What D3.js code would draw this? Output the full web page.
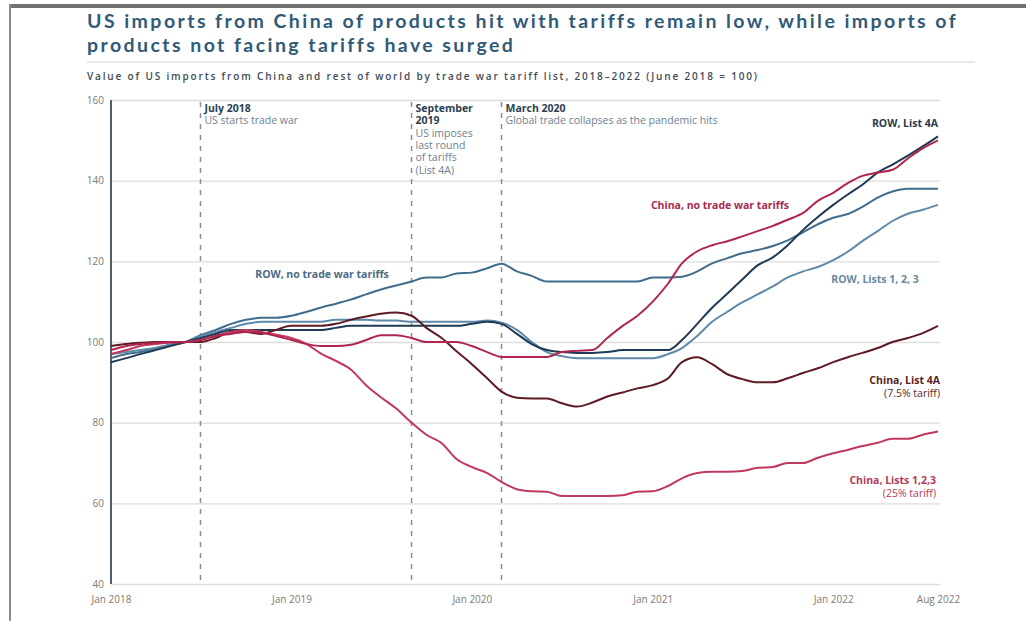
<!DOCTYPE html>
<html><head><meta charset="utf-8">
<script src="https://cdn.jsdelivr.net/npm/d3@7"></script>
<style>
html,body{margin:0;padding:0;background:#fff;}
svg{display:block;}
text{font-family:"Open Sans","Lato",sans-serif;}
</style></head>
<body>
<svg id="chart" width="1026" height="621"></svg>
<script>
// ---------- DATA ----------
const startMonth = new Date(2018, 0, 1);
const endMonth = new Date(2022, 7, 1);
const months = d3.timeMonth.range(startMonth, d3.timeMonth.offset(endMonth, 1)); // Jan 2018 .. Aug 2022

const rowNoTariff = [
  96, 97, 97.5, 98.5, 99.3, 100,
  101.7, 103, 104.5, 105.5, 106, 106,
  106.5, 107.5, 108.5, 109.5, 110.5, 111.8,
  113, 114, 115, 116, 116, 117,
  117.2, 118.3, 119.4, 117.5, 116.4, 115,
  115, 115, 115, 115, 115, 115,
  116, 116, 116.2, 117.5, 119.5, 120.8,
  122, 122.8, 123.8, 125.2, 127.2, 129.2,
  130.8, 131.8, 133.5, 135.8, 137.3, 138,
  138, 138];
const rowList4A = [
  95, 96, 97, 98, 99, 100,
  101, 102, 103, 103, 103, 103,
  103, 103, 103, 103.5, 104, 104,
  104, 104, 104, 104, 104, 104,
  104.5, 105, 104.5, 102, 99.5, 98,
  97.5, 97.3, 97.3, 97.5, 98, 98,
  98, 98, 100.5, 104.5, 108.5, 112,
  115.5, 119, 121, 124, 127.8, 131,
  134, 136.7, 139, 142, 144, 146.2,
  148.5, 151];
const rowLists123 = [
  97, 97.5, 98, 98.5, 99.3, 100,
  101.5, 102.5, 103.5, 104.5, 105, 105,
  105, 105, 105, 105.5, 105.5, 105.5,
  105.3, 105.3, 105, 105, 105, 105,
  105, 105.3, 104.8, 103, 100, 97.5,
  96.5, 96, 96, 96, 96, 96,
  96, 97, 98.5, 101.5, 105, 107.5,
  109.8, 111.8, 113.8, 116, 117.5, 118.6,
  120.3, 122.5, 125, 127.5, 130, 131.8,
  132.8, 134];
const chinaNoTariff = [
  98, 99, 99.5, 99.8, 100, 100,
  100.5, 101.5, 102, 102.5, 102.3, 101.5,
  100.5, 99.5, 99, 99, 99.3, 100.5,
  101.7, 101.7, 101, 100, 100, 100,
  99, 97.5, 96.3, 96.3, 96.3, 96.3,
  97.5, 97.8, 98, 101, 104, 106.5,
  110, 114.5, 119.5, 122.5, 124, 125,
  126.2, 127.5, 128.8, 130.3, 132, 135,
  137, 139.5, 141.2, 142, 142.7, 145.5,
  148, 150];
const chinaList4A = [
  99, 99.5, 99.8, 100, 100, 100,
  100, 101, 102.5, 102.5, 102, 103,
  104, 104, 104, 104.5, 105.5, 106.3,
  107, 107.3, 106.5, 103.5, 101, 97.7,
  94.5, 91, 87.7, 86.2, 86, 86,
  84.8, 84, 85, 86.5, 87.5, 88.5,
  89.3, 91, 95, 96.2, 94.5, 92,
  90.8, 90, 90, 91, 92.3, 93.5,
  95, 96.3, 97.3, 98.5, 100, 101,
  102.2, 104];
const chinaLists123 = [
  97, 98, 99, 99.5, 99.8, 100,
  100.5, 101.5, 102.5, 103, 102.5, 101.8,
  101, 99.5, 97.2, 95.3, 93.2, 89.3,
  86.3, 83.5, 80, 77, 74.9, 71,
  69, 67.5, 65.3, 63.5, 63, 62.9,
  61.8, 61.8, 61.8, 61.8, 62, 62.9,
  63, 64.3, 66.2, 67.5, 67.8, 67.8,
  68, 68.8, 69, 70, 70, 71.3,
  72.4, 73.3, 74.2, 75, 76, 76,
  77, 77.8];

const yTicks = [40, 60, 80, 100, 120, 140, 160];
const xTickDates = [new Date(2018,0,1), new Date(2019,0,1), new Date(2020,0,1), new Date(2021,0,1), new Date(2022,0,1), new Date(2022,7,1)];
const xTickLabels = ["Jan 2018", "Jan 2019", "Jan 2020", "Jan 2021", "Jan 2022", "Aug 2022"];

const eventDates = [new Date(2018,6,1), new Date(2019,8,1), new Date(2020,2,1)];
const eventTitles = [["July 2018"], ["September", "2019"], ["March 2020"]];
const eventTexts = [["US starts trade war"], ["US imposes", "last round", "of tariffs", "(List 4A)"], ["Global trade collapses as the pandemic hits"]];

const titleLines = ["US imports from China of products hit with tariffs remain low, while imports of",
                    "products not facing tariffs have surged"];
const subtitle = "Value of US imports from China and rest of world by trade war tariff list, 2018\u20132022 (June 2018 = 100)";

// ---------- SETUP ----------
const svg = d3.select("#chart");
svg.append("rect").attr("width",1026).attr("height",621).attr("fill","#fff");
// frame
svg.append("rect").attr("x",9).attr("y",4).attr("width",1017).attr("height",4).attr("fill","#727272");
svg.append("rect").attr("x",9).attr("y",4).attr("width",2).attr("height",617).attr("fill","#8c8c8c");

const x = d3.scaleTime().domain([startMonth, endMonth]).range([111, 938]);
const y = d3.scaleLinear().domain([40, 160]).range([584, 100]);

// stretch text to a target width by letter-spacing
function fitSpacing(sel, target, nchars){
  const w = sel.node().getComputedTextLength();
  const ls = (target - w) / Math.max(1, nchars - 1);
  sel.attr("letter-spacing", ls);
  return ls;
}

// Title
const t1 = svg.append("text").attr("x",87).attr("y",27.5).attr("font-size",19.5).attr("font-weight",700)
  .style("font-family","Lato, sans-serif").attr("fill","#2f5b78").text(titleLines[0]);
const lsT = fitSpacing(t1, 868, titleLines[0].length);
svg.append("text").attr("x",87).attr("y",51.5).attr("font-size",19.5).attr("font-weight",700)
  .style("font-family","Lato, sans-serif").attr("letter-spacing",lsT).attr("fill","#2f5b78").text(titleLines[1]);

svg.append("line").attr("x1",87).attr("x2",975).attr("y1",62).attr("y2",62).attr("stroke","#cfcfcf").attr("stroke-width",1.2);
const st = svg.append("text").attr("x",87).attr("y",80).attr("font-size",10).attr("font-weight",600)
  .attr("fill","#3d4b58").text(subtitle);
fitSpacing(st, 670, subtitle.length);

// Grid + y axis
const yAxis = d3.axisLeft(y).tickValues(yTicks).tickSize(-(940-111)).tickPadding(7).tickFormat(d3.format("d"));
const gy = svg.append("g").attr("transform","translate(111,0)").call(yAxis);
gy.select(".domain").remove();
gy.selectAll(".tick line").attr("stroke","#dddddd").attr("stroke-width",1.3);
gy.selectAll(".tick text").attr("font-size",10).attr("fill","#7a7a7a");
svg.append("line").attr("x1",111).attr("x2",111).attr("y1",100).attr("y2",584).attr("stroke","#4f5f6d").attr("stroke-width",2);

// x axis labels
const xAxis = d3.axisBottom(x).tickValues(xTickDates).tickSize(0).tickPadding(12)
  .tickFormat((d,i)=>xTickLabels[i]);
const gx = svg.append("g").attr("transform","translate(0,584)").call(xAxis);
gx.select(".domain").remove();
gx.selectAll(".tick text").attr("font-size",10).attr("fill","#7a7a7a");

// Event dashed lines
eventDates.forEach((d,i)=>{
  svg.append("line").attr("x1",x(d)).attr("x2",x(d)).attr("y1",102).attr("y2",584)
    .attr("stroke","#8d8d8d").attr("stroke-width",1.5).attr("stroke-dasharray","5,6");
  let yy = 112;
  eventTitles[i].forEach(s=>{
    svg.append("text").attr("x",x(d)+4).attr("y",yy).attr("font-size",10.5).attr("font-weight",700)
      .attr("fill","#2e3f51").text(s);
    yy += 12.3;
  });
  eventTexts[i].forEach(s=>{
    svg.append("text").attr("x",x(d)+4).attr("y",yy).attr("font-size",10.5)
      .attr("fill","#6d8193").text(s);
    yy += 12.3;
  });
});

// Lines
const series = [
  {name:"ROW, no trade war tariffs", values: rowNoTariff, color:"#416d8d"},
  {name:"ROW, Lists 1, 2, 3", values: rowLists123, color:"#5d89aa"},
  {name:"ROW, List 4A", values: rowList4A, color:"#1f3a55"},
  {name:"China, List 4A", values: chinaList4A, color:"#5e1b25"},
  {name:"China, Lists 1,2,3", values: chinaLists123, color:"#bf3a5c"},
  {name:"China, no trade war tariffs", values: chinaNoTariff, color:"#b0264f"}
];
const line = d3.line().x((d,i)=>x(months[i])).y(d=>y(d)).curve(d3.curveMonotoneX);
series.forEach(s=>{
  svg.append("path").datum(s.values).attr("d",line).attr("fill","none")
    .attr("stroke",s.color).attr("stroke-width",2).attr("stroke-linejoin","round");
});

// Line labels
function lab(txt, xx, yy, anchor, color, bold, fs){
  svg.append("text").attr("x",xx).attr("y",yy).attr("text-anchor",anchor).attr("font-size",fs||10.5)
    .attr("font-weight",bold?700:400).attr("fill",color).text(txt);
}
lab("ROW, List 4A", 938, 127, "end", "#2a3b4d", true);
lab("China, no trade war tariffs", 720, 209, "middle", "#a8284f", true);
lab("ROW, no trade war tariffs", 322, 278, "middle", "#4a6a84", true);
lab("ROW, Lists 1, 2, 3", 875, 283, "middle", "#6a89a2", true);
lab("China, List 4A", 940, 384, "end", "#5a1f26", true);
lab("(7.5% tariff)", 940, 397, "end", "#5a1f26", false);
lab("China, Lists 1,2,3", 936, 484, "end", "#b43a5a", true);
lab("(25% tariff)", 936, 497, "end", "#b43a5a", false);
</script>
</body></html>
